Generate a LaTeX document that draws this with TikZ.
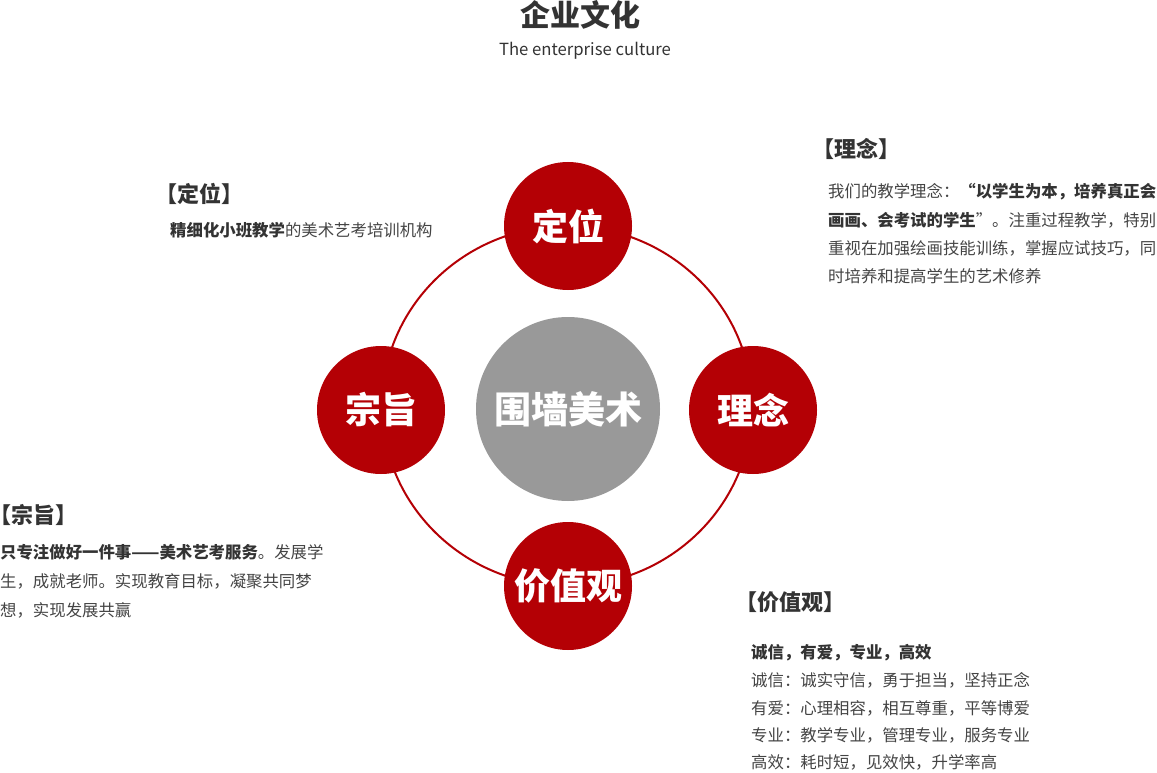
\documentclass[tikz,border=0pt]{standalone}
\usepackage{fontspec}
\setmainfont{Noto Sans CJK SC}
\definecolor{brandred}{HTML}{B40005}
\definecolor{midgray}{HTML}{999999}
\definecolor{txtdark}{HTML}{333333}
\definecolor{txtbody}{HTML}{444444}
\begin{document}
\begin{tikzpicture}[x=1pt,y=-1pt,
  bubble/.style={circle, fill=brandred, minimum size=128pt, inner sep=0pt, text=white, font=\fontsize{36}{36}\selectfont\bfseries},
  hub/.style={circle, fill=midgray, minimum size=184pt, inner sep=0pt, text=white, font=\fontsize{37}{37}\selectfont\bfseries},
  heading/.style={anchor=west, inner sep=0pt, text=txtdark, font=\fontsize{22}{22}\selectfont\bfseries},
  bodyline/.style={anchor=west, inner sep=0pt, text=txtbody, font=\fontsize{16.4}{17}\selectfont},
  ring/.style={draw=brandred, line width=2pt}
]
\useasboundingbox (0,0) rectangle (1157,773);
% title
\node[inner sep=0pt, text=txtdark, font=\fontsize{30}{30}\selectfont\bfseries] (title) at (580,15) {企业文化};
\node[inner sep=0pt, text=txtdark, font=\fontsize{16.7}{17}\selectfont] (subtitle) at (585,51) {The enterprise culture};
% ring
\draw[ring] (567,406) ellipse [x radius=185, y radius=180];
% circles
\node[hub] (core) at (568,409) {围墙美术};
\node[bubble] (dingwei) at (568,226) {定位};
\node[bubble] (zongzhi) at (381,410) {宗旨};
\node[bubble] (linian) at (753,410) {理念};
\node[bubble] (jiazhi) at (568,586) {价值观};
% headings
\node[heading] (hdw) at (155,194) {【定位】};
\node[heading] (hln) at (812,149) {【理念】};
\node[heading] (hzz) at (-11,515) {【宗旨】};
\node[heading] (hjz) at (735,602) {【价值观】};
% 定位
\node[bodyline] (dw1) at (170,230) {\textbf{\color{txtdark}精细化小班教学}的美术艺考培训机构};
% 理念
\node[bodyline] (ln1) at (828,192) {我们的教学理念：\textbf{\color{txtdark}“以学生为本，培养真正会}};
\node[bodyline] (ln2) at (828,220.5) {\textbf{\color{txtdark}画画、会考试的学生}”。注重过程教学，特别};
\node[bodyline] (ln3) at (828,248.5) {重视在加强绘画技能训练，掌握应试技巧，同};
\node[bodyline] (ln4) at (828,276.5) {时培养和提高学生的艺术修养};
% 宗旨
\node[bodyline] (zz1) at (0,552.5) {\textbf{\color{txtdark}只专注做好一件事——美术艺考服务}。发展学};
\node[bodyline] (zz2) at (0,581) {生，成就老师。实现教育目标，凝聚共同梦};
\node[bodyline] (zz3) at (0,610) {想，实现发展共赢};
% 价值观
\node[bodyline] (jz1) at (751,653) {\textbf{\color{txtdark}诚信，有爱，专业，高效}};
\node[bodyline] (jz2) at (751,680.5) {诚信：诚实守信，勇于担当，坚持正念};
\node[bodyline] (jz3) at (751,708) {有爱：心理相容，相互尊重，平等博爱};
\node[bodyline] (jz4) at (751,735.5) {专业：教学专业，管理专业，服务专业};
\node[bodyline] (jz5) at (751,762.5) {高效：耗时短，见效快，升学率高};
\end{tikzpicture}
\end{document}
